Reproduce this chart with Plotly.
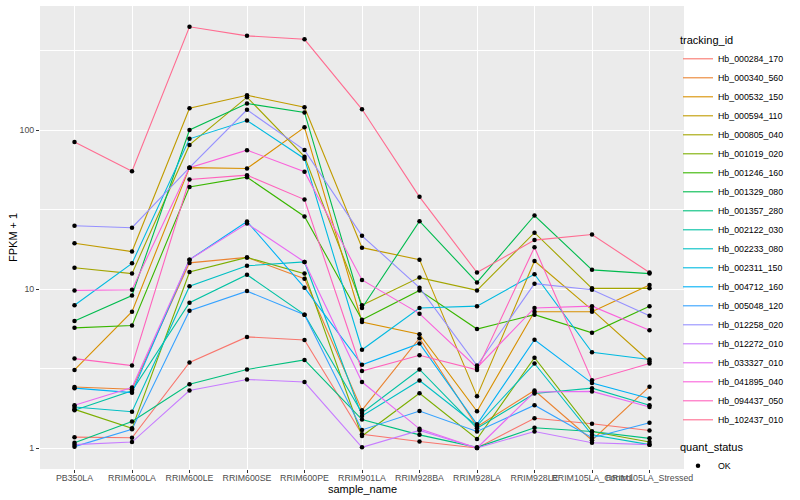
import plotly.graph_objects as go

categories = ["PB350LA", "RRIM600LA", "RRIM600LE", "RRIM600SE", "RRIM600PE",
              "RRIM901LA", "RRIM928BA", "RRIM928LA", "RRIM928LE",
              "RRIM105LA_Control", "RRIM105LA_Stressed"]

tracking_ids = ["Hb_000284_170", "Hb_000340_560", "Hb_000532_150", "Hb_000594_110",
                "Hb_000805_040", "Hb_001019_020", "Hb_001246_160", "Hb_001329_080",
                "Hb_001357_280", "Hb_002122_030", "Hb_002233_080", "Hb_002311_150",
                "Hb_004712_160", "Hb_005048_120", "Hb_012258_020", "Hb_012272_010",
                "Hb_033327_010", "Hb_041895_040", "Hb_094437_050", "Hb_102437_010"]

# FPKM + 1 values, one list per tracking_id (order of categories)
hb_000284_170 = [1.17, 1.16, 3.45, 5.0, 4.78, 1.22, 1.1, 1.0, 1.54, 1.42, 1.29]
hb_000340_560 = [2.42, 2.34, 14.6, 15.8, 11.6, 1.73, 4.9, 1.36, 2.3, 1.12, 2.43]
hb_000532_150 = [3.1, 7.2, 58, 57.3, 104, 6.2, 5.2, 1.7, 7.2, 7.2, 10.6]
hb_000594_110 = [19.4, 17.2, 137, 165.5, 139, 18.2, 15.3, 2.12, 15.0, 7.4, 3.5]
hb_000805_040 = [13.6, 12.5, 80.6, 161, 68, 7.9, 11.8, 9.8, 22.6, 10.1, 10.1]
hb_001019_020 = [1.75, 1.33, 12.8, 15.8, 12.5, 1.19, 2.21, 1.14, 3.7, 1.27, 1.09]
hb_001246_160 = [5.7, 5.9, 43.8, 50.5, 28.6, 6.4, 9.8, 5.6, 6.9, 5.3, 7.8]
hb_001329_080 = [6.3, 9.1, 100, 146.8, 129, 7.6, 26.7, 11.0, 29, 13.2, 12.5]
hb_001357_280 = [1.08, 1.47, 2.52, 3.12, 3.58, 1.51, 1.21, 1.01, 1.34, 1.27, 1.15]
hb_002122_030 = [1.73, 2.29, 8.2, 12.3, 6.9, 1.66, 3.12, 1.33, 2.2, 2.38, 1.86]
hb_002233_080 = [1.81, 1.69, 10.4, 14.0, 14.8, 1.59, 2.66, 1.38, 3.4, 1.21, 1.05]
hb_002311_150 = [7.9, 14.5, 88, 114.7, 66, 4.15, 7.6, 7.8, 12.4, 4.0, 3.6]
hb_004712_160 = [2.38, 2.23, 15.3, 26.6, 10.2, 3.34, 4.55, 1.41, 4.8, 2.56, 2.05]
hb_005048_120 = [1.02, 1.31, 7.3, 9.7, 6.9, 1.3, 1.71, 1.27, 1.86, 1.16, 1.44]
hb_012258_020 = [25, 24.3, 58, 134, 74.8, 21.6, 10.2, 3.3, 10.8, 9.9, 6.8]
hb_012272_010 = [1.05, 1.09, 2.3, 2.7, 2.6, 1.01, 1.29, 1.0, 1.27, 1.08, 1.05]
hb_033327_010 = [1.86, 2.4, 15.3, 25.8, 14.8, 2.6, 1.32, 1.0, 2.25, 2.27, 1.81]
hb_041895_040 = [9.8, 9.9, 58, 74.7, 54.7, 11.4, 7.0, 3.2, 7.6, 7.8, 5.5]
hb_094437_050 = [3.65, 3.3, 48.8, 52, 36.5, 3.05, 3.83, 3.1, 18.3, 2.67, 3.4]
hb_102437_010 = [84, 55, 446, 391, 372, 135, 38, 12.7, 20.3, 22, 12.7]

series = [hb_000284_170, hb_000340_560, hb_000532_150, hb_000594_110, hb_000805_040,
          hb_001019_020, hb_001246_160, hb_001329_080, hb_001357_280, hb_002122_030,
          hb_002233_080, hb_002311_150, hb_004712_160, hb_005048_120, hb_012258_020,
          hb_012272_010, hb_033327_010, hb_041895_040, hb_094437_050, hb_102437_010]

colors = ["#F8766D", "#EA8331", "#D89000", "#C09B00", "#A3A500", "#7CAE00", "#39B600",
          "#00BB4E", "#00BF7D", "#00C1A3", "#00BFC4", "#00BAE0", "#00B0F6", "#35A2FF",
          "#9590FF", "#C77CFF", "#E76BF3", "#FA62DB", "#FF62BC", "#FF6C91"]

y_ticks = [1, 10, 100]
y_tick_text = ["1", "10", "100"]
y_minor = [10 ** 0.5, 10 ** 1.5, 10 ** 2.5]

FONT = "Liberation Sans, Arial, Helvetica, sans-serif"

fig = go.Figure()
for name, vals, col in zip(tracking_ids, series, colors):
    fig.add_trace(go.Scatter(x=categories, y=vals, mode="lines", name=name,
                             line=dict(color=col, width=1.1), legend="legend",
                             hoverinfo="skip"))

all_x = [c for vals in series for c in categories]
all_y = [v for vals in series for v in vals]
fig.add_trace(go.Scatter(x=all_x, y=all_y, mode="markers", name="OK",
                         marker=dict(color="black", size=4.5, symbol="circle"),
                         legend="legend2"))

L, R, T, B = 40, 116, 6, 31
PW, PH = 800 - L - R, 500 - T - B

fig.update_layout(
    width=800, height=500,
    margin=dict(l=L, r=R, t=T, b=B, pad=0, autoexpand=False),
    paper_bgcolor="white", plot_bgcolor="#EBEBEB",
    font=dict(family=FONT, size=9, color="black"),
    xaxis=dict(type="category", categoryorder="array", categoryarray=categories,
               range=[-0.6, len(categories) - 0.4], showgrid=True, gridcolor="white",
               gridwidth=1.1, zeroline=False, showline=False, ticks="outside",
               ticklen=3, tickwidth=1, tickcolor="#333333", tickangle=0,
               automargin=False, ticklabelstandoff=-3,
               tickfont=dict(size=8.8, color="#4D4D4D", family=FONT)),
    yaxis=dict(type="log", range=[-0.132, 2.78], tickmode="array", tickvals=y_ticks,
               ticktext=y_tick_text, showgrid=True, gridcolor="white", gridwidth=1.1,
               zeroline=False, showline=False, ticks="outside", ticklen=3, tickwidth=1,
               automargin=False,
               tickcolor="#333333", tickfont=dict(size=8.8, color="#4D4D4D", family=FONT),
               minor=dict(tickvals=y_minor, showgrid=True, gridcolor="white",
                          gridwidth=0.55, ticks="")),
    legend=dict(title=dict(text="tracking_id", font=dict(size=11, family=FONT)),
                font=dict(size=8.8, family=FONT), xref="container", yref="container",
                x=678 / 800, y=1 - 30 / 500, xanchor="left", yanchor="top",
                maxheight=440, bgcolor="rgba(0,0,0,0)", tracegroupgap=0),
    legend2=dict(title=dict(text="quant_status", font=dict(size=11, family=FONT)),
                 font=dict(size=8.8, family=FONT), xref="container", yref="container",
                 x=678 / 800, y=1 - 437 / 500, xanchor="left", yanchor="top",
                 bgcolor="rgba(0,0,0,0)"),
    annotations=[
        dict(text="sample_name", xref="paper", yref="paper", x=0.5,
             y=-(489 - (T + PH)) / PH, xanchor="center", yanchor="middle",
             showarrow=False, font=dict(size=11, family=FONT, color="black")),
        dict(text="FPKM + 1", xref="paper", yref="paper", x=(13 - L) / PW,
             y=1 - (237 - T) / PH, xanchor="center", yanchor="middle", textangle=-90,
             showarrow=False, font=dict(size=11, family=FONT, color="black")),
    ],
)

fig.write_html("out.html", config={"displayModeBar": False},
               post_script="document.body.style.margin='0px';")
